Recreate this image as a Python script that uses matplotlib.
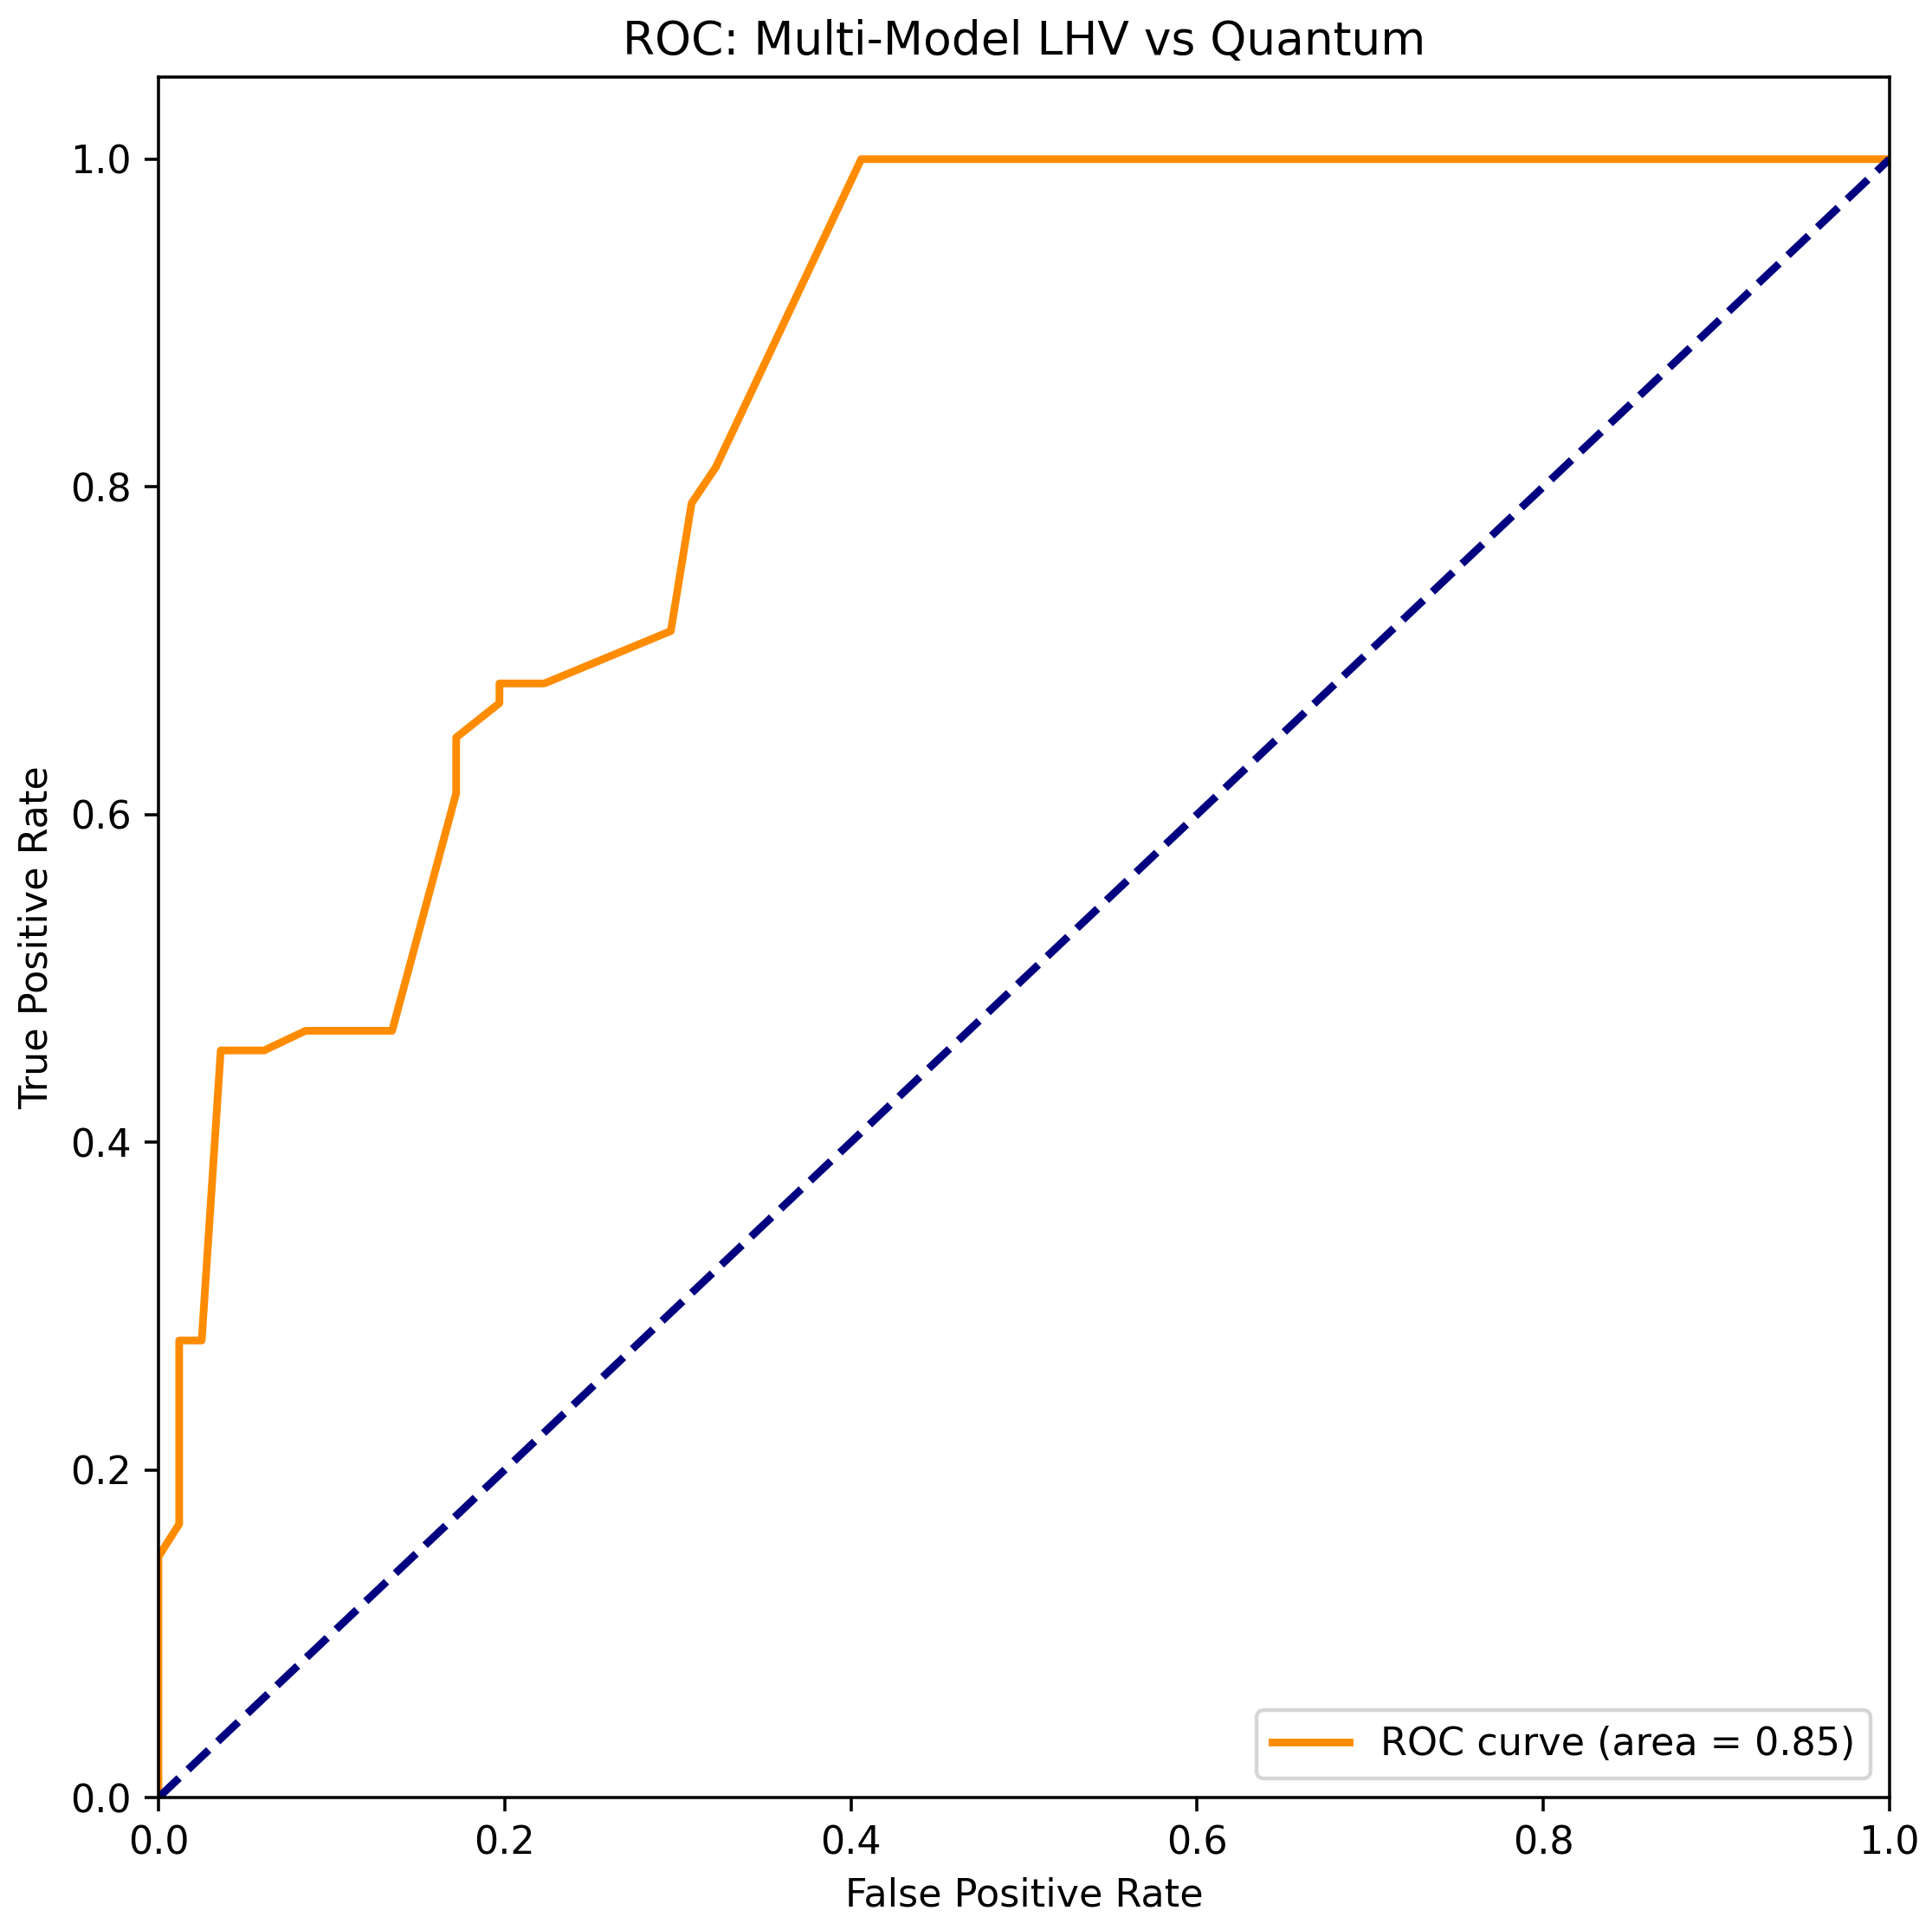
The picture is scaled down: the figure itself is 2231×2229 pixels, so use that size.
import matplotlib
matplotlib.use("Agg")
import matplotlib.pyplot as plt

# ROC points
fpr = [0.0, 0.0, 0.012, 0.012, 0.025, 0.036, 0.061, 0.085, 0.135,
       0.172, 0.172, 0.197, 0.197, 0.223, 0.296, 0.308, 0.322, 0.406, 1.0]
tpr = [0.0, 0.147, 0.167, 0.279, 0.279, 0.456, 0.456, 0.468, 0.468,
       0.613, 0.647, 0.668, 0.680, 0.680, 0.712, 0.790, 0.812, 1.0, 1.0]
roc_auc = 0.85

chance = [0.0, 1.0]

DPI = 320


def main() -> None:
    fig = plt.figure(figsize=(2231 / DPI, 2229 / DPI), dpi=DPI)
    ax = fig.add_axes([0.0820, 0.0686, 0.8960, 0.8914])

    ax.plot(fpr, tpr, color="darkorange", lw=2,
            label=f"ROC curve (area = {roc_auc:.2f})")
    ax.plot(chance, chance, color="navy", lw=2, linestyle="--")
    ax.set_xlim([0.0, 1.0])
    ax.set_ylim([0.0, 1.05])
    ax.set_xlabel("False Positive Rate")
    ax.set_ylabel("True Positive Rate")
    ax.set_title("ROC: Multi-Model LHV vs Quantum")
    ax.legend(loc="lower right")

    fig.savefig("out.png", dpi=DPI)
    plt.close(fig)


if __name__ == "__main__":
    main()
